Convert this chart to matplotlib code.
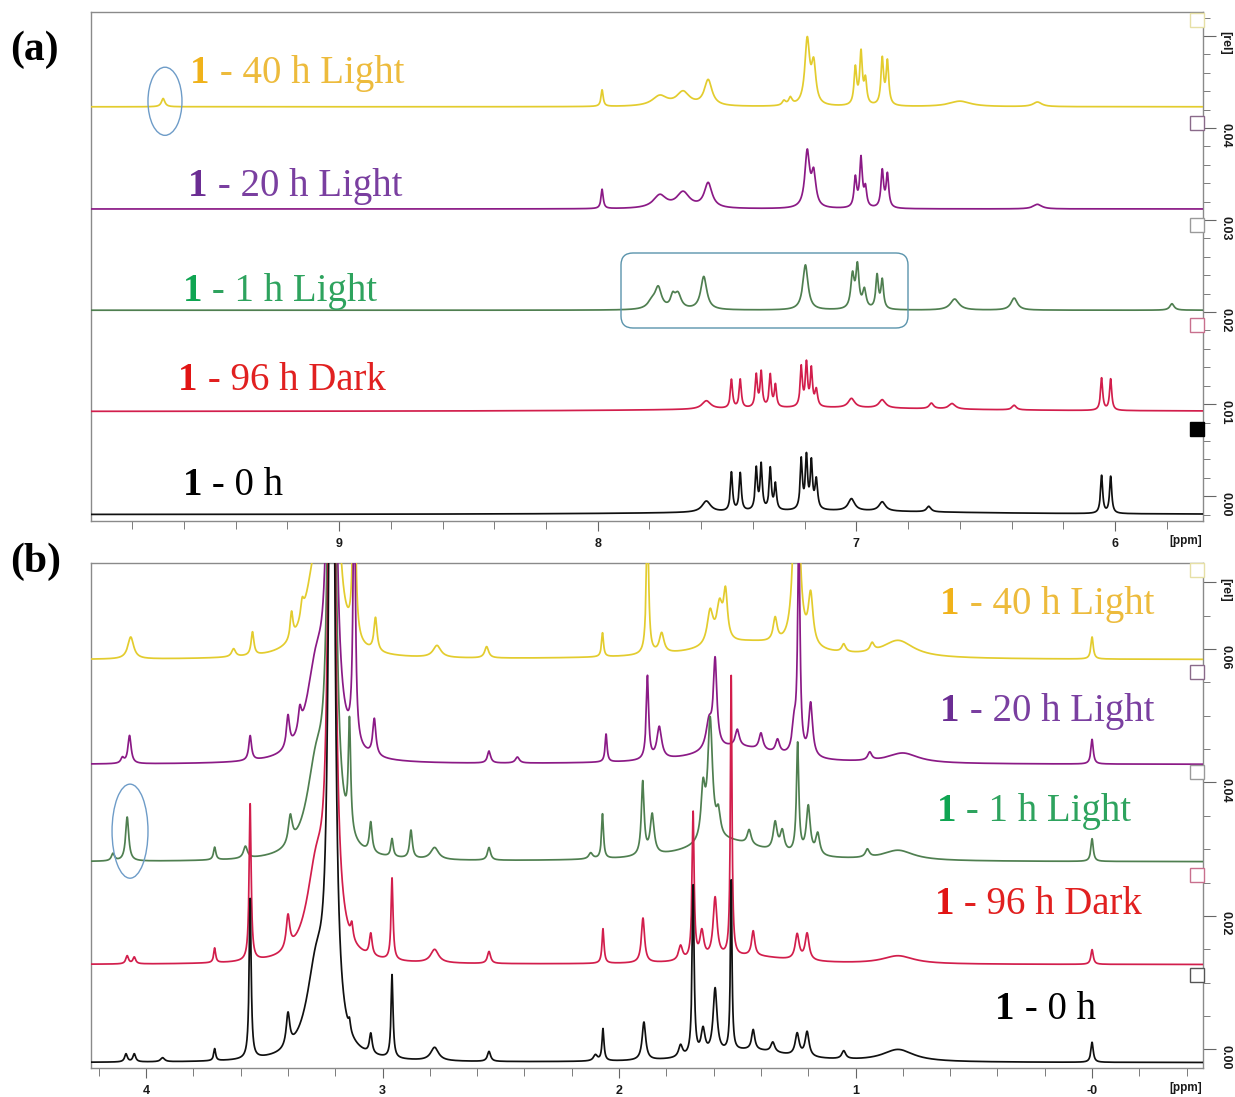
import numpy as np
import matplotlib
matplotlib.use("Agg")
import matplotlib.pyplot as plt
from matplotlib.patches import Ellipse, FancyBboxPatch
from matplotlib.ticker import FixedLocator, MultipleLocator, FuncFormatter

# ------------------------------------------------------------------
# Sample series (top to bottom in each stack)
SAMPLE_TIMES = ["40 h Light", "20 h Light", "1 h Light", "96 h Dark", "0 h"]

# Vertical offset of each trace (rel units)
A_OFFSETS = [0.0423, 0.0312, 0.0202, 0.0092, -0.0020]
B_OFFSETS = [0.0584, 0.0427, 0.0281, 0.0127, -0.0020]

# Peak lists: (shift / ppm, height / rel, half-width / ppm)
# (a) aromatic region
A_40H_LIGHT = [(9.68, 0.0009, 0.008), (7.983, 0.0018, 0.005), (7.76, 0.0011, 0.035),
               (7.67, 0.0015, 0.03), (7.573, 0.0028, 0.018), (7.28, 0.0005, 0.008),
               (7.255, 0.0008, 0.008), (7.19, 0.0070, 0.011), (7.165, 0.0042, 0.010),
               (7.004, 0.0040, 0.006), (6.982, 0.0056, 0.006), (6.965, 0.0026, 0.006),
               (6.900, 0.0050, 0.006), (6.880, 0.0047, 0.006), (6.60, 0.0006, 0.05),
               (6.30, 0.0005, 0.02)]
A_20H_LIGHT = [(7.983, 0.0021, 0.005), (7.76, 0.0014, 0.03), (7.67, 0.0017, 0.03),
               (7.573, 0.0027, 0.018), (7.19, 0.0060, 0.011), (7.165, 0.0035, 0.010),
               (7.004, 0.0032, 0.006), (6.982, 0.0053, 0.006), (6.965, 0.0020, 0.006),
               (6.900, 0.0040, 0.006), (6.880, 0.0036, 0.006), (6.30, 0.0005, 0.02)]
A_1H_LIGHT = [(7.79, 0.0008, 0.02), (7.766, 0.0022, 0.015), (7.71, 0.0012, 0.01),
              (7.69, 0.0016, 0.015), (7.59, 0.0036, 0.014), (7.197, 0.0049, 0.012),
              (7.015, 0.0036, 0.008), (6.996, 0.0045, 0.007), (6.969, 0.0020, 0.008),
              (6.92, 0.0036, 0.006), (6.90, 0.0031, 0.006), (6.62, 0.0012, 0.02),
              (6.39, 0.0013, 0.015), (5.78, 0.0007, 0.01)]
A_96H_DARK = [(7.58, 0.0009, 0.02), (7.483, 0.0031, 0.005), (7.449, 0.0031, 0.005),
              (7.387, 0.0035, 0.005), (7.368, 0.0038, 0.005), (7.333, 0.0035, 0.005),
              (7.313, 0.0024, 0.005), (7.213, 0.0043, 0.005), (7.193, 0.0046, 0.005),
              (7.174, 0.0040, 0.005), (7.155, 0.0018, 0.006), (7.019, 0.0010, 0.015),
              (6.90, 0.0009, 0.015), (6.71, 0.0006, 0.01), (6.63, 0.0006, 0.015),
              (6.39, 0.0005, 0.01), (6.052, 0.0035, 0.005), (6.017, 0.0034, 0.005),
              (7.1, 0.0004, 0.6)]
A_0H = [(7.58, 0.0012, 0.02), (7.483, 0.0042, 0.005), (7.449, 0.0041, 0.005),
        (7.387, 0.0045, 0.005), (7.368, 0.0049, 0.005), (7.333, 0.0045, 0.005),
        (7.313, 0.0028, 0.005), (7.213, 0.0054, 0.005), (7.193, 0.0056, 0.005),
        (7.174, 0.0050, 0.005), (7.155, 0.0032, 0.006), (7.019, 0.0013, 0.015),
        (6.90, 0.0010, 0.015), (6.72, 0.0006, 0.01), (6.052, 0.0041, 0.005),
        (6.017, 0.0040, 0.005), (7.1, 0.0004, 0.6)]

# (b) aliphatic region; the solvent signal is common to all traces
B_SOLVENT = [(3.215, 0.15, 0.012), (3.28, 0.013, 0.05)]
B_40H_LIGHT = [(4.065, 0.0033, 0.015), (3.63, 0.0012, 0.01), (3.55, 0.0035, 0.007),
               (3.385, 0.0040, 0.007), (3.34, 0.0025, 0.008), (3.12, 0.035, 0.006),
               (3.03, 0.0050, 0.008), (2.77, 0.0018, 0.02), (2.56, 0.0017, 0.01),
               (2.07, 0.0036, 0.005), (1.88, 0.020, 0.006), (1.82, 0.0030, 0.012),
               (1.615, 0.0050, 0.015), (1.575, 0.0055, 0.015), (1.55, 0.0070, 0.01),
               (1.34, 0.0035, 0.01), (1.25, 0.040, 0.012), (1.19, 0.0075, 0.012),
               (1.05, 0.0012, 0.01), (0.93, 0.0012, 0.01), (0.82, 0.0025, 0.08),
               (1.45, 0.0025, 0.25), (0.0, 0.0033, 0.006)]
B_20H_LIGHT = [(4.10, 0.0008, 0.008), (4.07, 0.0042, 0.008), (3.56, 0.0037, 0.007),
               (3.40, 0.0048, 0.008), (3.35, 0.0032, 0.008), (3.12, 0.040, 0.006),
               (3.035, 0.0055, 0.008), (2.55, 0.0018, 0.008), (2.43, 0.0009, 0.01),
               (2.055, 0.0042, 0.005), (1.88, 0.0125, 0.006), (1.83, 0.0048, 0.012),
               (1.62, 0.0040, 0.015), (1.594, 0.0130, 0.009), (1.50, 0.0025, 0.01),
               (1.40, 0.0025, 0.01), (1.33, 0.0020, 0.01), (1.26, 0.0040, 0.01),
               (1.24, 0.033, 0.006), (1.19, 0.0080, 0.01), (0.94, 0.0012, 0.01),
               (0.80, 0.0015, 0.08), (1.5, 0.0025, 0.2), (0.0, 0.0037, 0.006)]
B_1H_LIGHT = [(4.14, 0.0011, 0.008), (4.08, 0.0066, 0.008), (3.71, 0.0019, 0.006),
              (3.58, 0.0018, 0.01), (3.39, 0.0042, 0.01), (3.14, 0.0165, 0.006),
              (3.05, 0.0045, 0.007), (2.96, 0.0027, 0.006), (2.88, 0.0042, 0.007),
              (2.78, 0.0018, 0.02), (2.55, 0.0019, 0.008), (2.12, 0.0009, 0.01),
              (2.07, 0.0067, 0.005), (1.90, 0.0110, 0.007), (1.86, 0.0060, 0.01),
              (1.645, 0.0075, 0.01), (1.615, 0.0180, 0.012), (1.58, 0.0035, 0.01),
              (1.45, 0.0022, 0.01), (1.34, 0.0042, 0.01), (1.31, 0.0030, 0.01),
              (1.245, 0.0165, 0.006), (1.20, 0.0072, 0.01), (1.16, 0.0032, 0.01),
              (0.95, 0.0012, 0.01), (0.82, 0.0015, 0.08), (1.55, 0.0030, 0.2),
              (0.0, 0.0034, 0.006)]
B_96H_DARK = [(4.08, 0.0012, 0.007), (4.05, 0.0010, 0.007), (3.71, 0.0022, 0.005),
              (3.56, 0.0235, 0.005), (3.40, 0.0050, 0.009), (3.13, 0.0022, 0.006),
              (3.05, 0.0033, 0.007), (2.96, 0.0123, 0.005), (2.78, 0.0020, 0.02),
              (2.55, 0.0018, 0.008), (2.068, 0.0052, 0.005), (1.899, 0.0067, 0.008),
              (1.74, 0.0022, 0.01), (1.687, 0.0220, 0.005), (1.65, 0.0040, 0.01),
              (1.594, 0.0090, 0.01), (1.526, 0.0420, 0.004), (1.433, 0.0037, 0.008),
              (1.247, 0.0038, 0.01), (1.205, 0.0040, 0.01), (0.82, 0.0012, 0.08),
              (1.45, 0.0012, 0.2), (0.0, 0.0022, 0.006)]
B_0H = [(4.085, 0.0012, 0.007), (4.05, 0.0012, 0.007), (3.93, 0.0006, 0.01),
        (3.71, 0.0018, 0.005), (3.56, 0.0240, 0.005), (3.40, 0.0050, 0.009),
        (3.14, 0.0015, 0.005), (3.05, 0.0030, 0.007), (2.96, 0.0125, 0.005),
        (2.78, 0.0020, 0.02), (2.55, 0.0015, 0.008), (2.10, 0.0009, 0.01),
        (2.068, 0.0048, 0.005), (1.895, 0.0057, 0.009), (1.74, 0.0018, 0.01),
        (1.687, 0.0255, 0.005), (1.645, 0.0037, 0.01), (1.594, 0.0097, 0.01),
        (1.526, 0.0255, 0.004), (1.433, 0.0030, 0.008), (1.35, 0.0015, 0.01),
        (1.247, 0.0033, 0.01), (1.205, 0.0037, 0.01), (1.05, 0.0012, 0.01),
        (0.82, 0.0018, 0.08), (1.45, 0.0018, 0.2), (0.0, 0.0030, 0.006)]

A_PEAKS = [A_40H_LIGHT, A_20H_LIGHT, A_1H_LIGHT, A_96H_DARK, A_0H]
B_PEAKS = [B_40H_LIGHT, B_20H_LIGHT, B_1H_LIGHT, B_96H_DARK, B_0H]

# ------------------------------------------------------------------
TRACE_COLORS = ["#E3CC2E", "#8B1A86", "#4F7F50", "#D21E4C", "#101010"]
NUM_COLORS = ["#F0B21A", "#6B2D93", "#0FA552", "#E11414", "#000000"]
TXT_COLORS = ["#EDBB3C", "#7A3FA0", "#2EA35E", "#E12020", "#000000"]
BOX_EDGE = ["#E6E0A6", "#8A6A8A", "#9A9A9A", "#C8708E", "#000000"]

plt.rcParams["font.family"] = ["Liberation Sans", "DejaVu Sans"]
plt.rcParams["font.weight"] = "bold"

W, H = 1235, 1097
fig = plt.figure(figsize=(W / 100, H / 100), dpi=100)
fig.patch.set_facecolor("white")


def fig_rect(x0, y0, x1, y1):
    return [x0 / W, 1 - y1 / H, (x1 - x0) / W, (y1 - y0) / H]


def lorentz_sum(ppm, peaks):
    y = np.zeros_like(ppm)
    for c, h, w in peaks:
        y += h * w ** 2 / ((ppm - c) ** 2 + w ** 2)
    return y


def ppm_fmt(v, _):
    return "-0" if abs(v) < 1e-9 else f"{v:g}"


def make_rel_fmt(top_tick):
    def fmt(v, _):
        if abs(v - top_tick) < 1e-9:
            return "[rel]"
        return f"{v:.2f}"
    return fmt


def style_axes(ax, xlim, ylim, yticks, yminor, rel_tick):
    ax.set_xlim(*xlim)
    ax.set_ylim(*ylim)
    for s in ax.spines.values():
        s.set_color("#8a8a8a")
        s.set_linewidth(1.0)
    ax.yaxis.tick_right()
    ax.xaxis.set_major_locator(MultipleLocator(1))
    ax.xaxis.set_minor_locator(MultipleLocator(0.2))
    ax.xaxis.set_major_formatter(FuncFormatter(ppm_fmt))
    ax.yaxis.set_major_locator(FixedLocator(yticks))
    ax.yaxis.set_minor_locator(MultipleLocator(yminor))
    ax.yaxis.set_major_formatter(FuncFormatter(make_rel_fmt(rel_tick)))
    ax.tick_params(axis="both", which="both", direction="out", colors="#666666",
                   labelcolor="#1a1a1a", labelsize=9)
    ax.tick_params(axis="x", which="major", length=7, pad=5)
    ax.tick_params(axis="x", which="minor", length=6)
    ax.tick_params(axis="y", which="major", length=9, pad=3, labelrotation=-90)
    ax.tick_params(axis="y", which="minor", length=5)
    ax.annotate("[ppm]", xy=(0.984, 0), xycoords="axes fraction", xytext=(0, -14.5),
                textcoords="offset points", ha="center", va="center", fontsize=8.5,
                color="#1a1a1a")


def draw_stack(ax, xlim, peaks_list, offsets, extra=None):
    ppm = np.linspace(xlim[1], xlim[0], 9000)
    for peaks, off, col in zip(peaks_list, offsets, TRACE_COLORS):
        allp = list(peaks) + (list(extra) if extra else [])
        ax.plot(ppm, off + lorentz_sum(ppm, allp), color=col, lw=1.25, zorder=3)


def draw_labels(ax, positions):
    for (x, y), name, c1, c2 in zip(positions, SAMPLE_TIMES, NUM_COLORS, TXT_COLORS):
        t1 = fig.text(x / W, 1 - y / H, "1", fontsize=28, color=c1, weight="bold",
                      family="Liberation Serif", ha="left", va="baseline")
        ax.annotate(" - " + name, xy=(1, 0), xycoords=t1, ha="left", va="bottom",
                    fontsize=28, color=c2, weight="normal", family="Liberation Serif",
                    annotation_clip=False)


def draw_markers(ax, ypix, y_top, y_bot, filled_last):
    for i, (yp, ec) in enumerate(zip(ypix, BOX_EDGE)):
        fy = (y_bot - yp) / (y_bot - y_top)
        last = i == len(ypix) - 1
        fc = "black" if (filled_last and last) else "white"
        edge = "#555555" if (last and not filled_last) else ec
        ax.plot([0.9946], [fy], marker="s", ms=9.5, mfc=fc, mec=edge,
                mew=1.0, ls="none", transform=ax.transAxes, clip_on=False, zorder=5)


# ---------------- panel (a) ----------------
ax_a = fig.add_axes(fig_rect(91, 12, 1203, 521))
A_XLIM = (9.959, 5.66)
style_axes(ax_a, A_XLIM, (-0.0027, 0.0526), [0.0, 0.01, 0.02, 0.03, 0.04, 0.05], 0.002, 0.05)
draw_stack(ax_a, A_XLIM, A_PEAKS, A_OFFSETS)
draw_labels(ax_a, [(190, 83), (188, 196), (183, 301), (178, 390), (183, 495)])
draw_markers(ax_a, [20, 123, 225, 325, 429], 12, 521, True)

ax_a.add_patch(Ellipse((9.673, 0.0429), 0.1315, 0.0074, fill=False, ec="#6E9CC8", lw=1.0, zorder=4))
fig.patches.append(FancyBboxPatch((6.21, (H - 328) / 100), 2.87, 0.75,
                                  boxstyle="round,pad=0,rounding_size=0.12",
                                  transform=fig.dpi_scale_trans, fill=False,
                                  ec="#5A94AC", lw=1.0, zorder=6))

# ---------------- panel (b) ----------------
ax_b = fig.add_axes(fig_rect(91, 563, 1203, 1068))
B_XLIM = (4.233, -0.469)
style_axes(ax_b, B_XLIM, (-0.0028, 0.0729), [0.0, 0.02, 0.04, 0.06, 0.07], 0.005, 0.07)
draw_stack(ax_b, B_XLIM, B_PEAKS, B_OFFSETS, extra=B_SOLVENT)
draw_labels(ax_b, [(940, 614), (940, 721), (937, 821), (935, 914), (995, 1019)])
draw_markers(ax_b, [570, 672, 772, 875, 975], 563, 1068, False)

ax_b.add_patch(Ellipse((4.068, 0.0327), 0.152, 0.0141, fill=False, ec="#6E9CC8", lw=1.0, zorder=4))

# panel letters
fig.text(10 / W, 1 - 50 / H, "(a)", fontsize=30, weight="bold", family="Liberation Serif",
         ha="left", va="center")
fig.text(10 / W, 1 - 562 / H, "(b)", fontsize=30, weight="bold", family="Liberation Serif",
         ha="left", va="center")

fig.savefig("out.png", dpi=100, facecolor="white")
